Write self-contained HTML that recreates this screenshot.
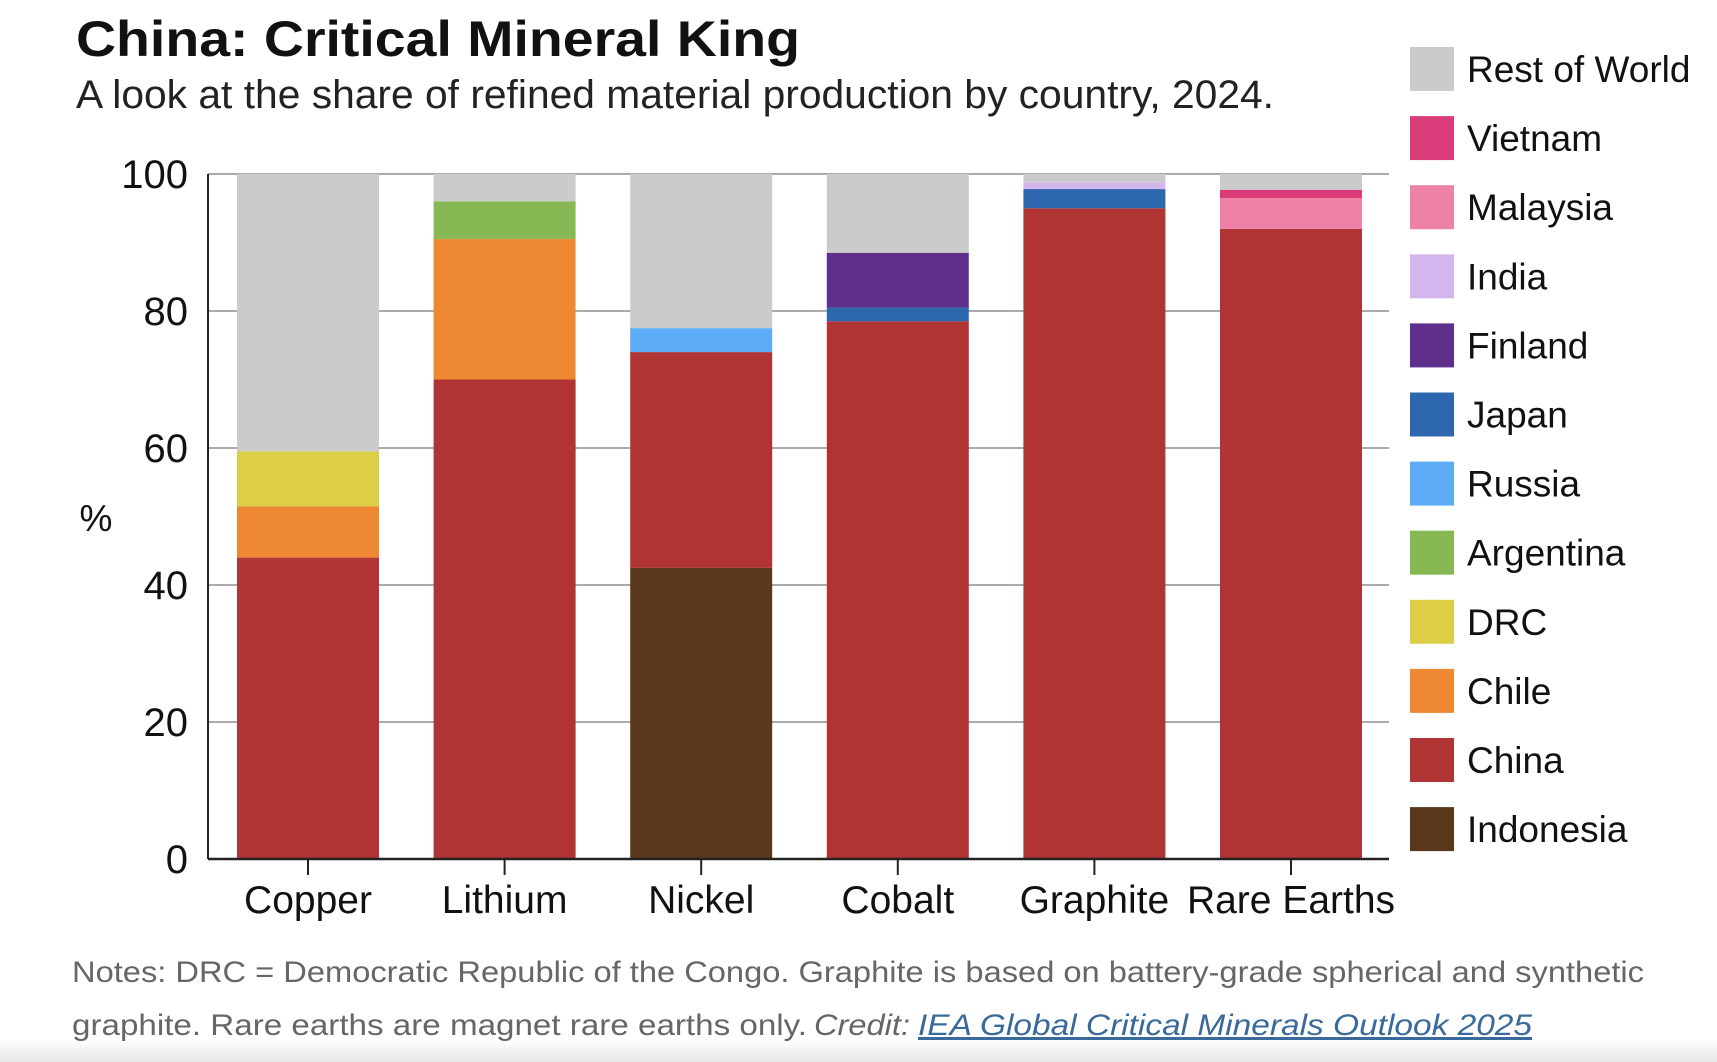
<!DOCTYPE html>
<html><head><meta charset="utf-8"><style>
html,body{margin:0;padding:0;background:#fff;}
svg{display:block;font-family:"Liberation Sans",sans-serif;}
</style></head><body>
<svg id="chart" width="1717" height="1062" viewBox="0 0 1717 1062">
<defs><linearGradient id="bot" x1="0" y1="0" x2="0" y2="1"><stop offset="0" stop-color="#fff"/><stop offset="1" stop-color="#e6e6e6"/></linearGradient></defs>
<rect x="0" y="1040" width="1717" height="22" fill="url(#bot)"/>
<text x="76" y="56" font-size="50" font-weight="bold" fill="#111" textLength="724" lengthAdjust="spacingAndGlyphs">China: Critical Mineral King</text>
<text x="76" y="108" font-size="40" fill="#222" textLength="1198" lengthAdjust="spacingAndGlyphs">A look at the share of refined material production by country, 2024.</text>
<g id="grid"></g>
<g id="bars"></g>
<g id="axes"></g>
<g id="legend"></g>
<text x="96" y="531" font-size="37" text-anchor="middle" fill="#111">%</text>
<text x="72" y="982" font-size="30" fill="#666" textLength="1572" lengthAdjust="spacingAndGlyphs">Notes: DRC = Democratic Republic of the Congo. Graphite is based on battery-grade spherical and synthetic</text>
<text x="72" y="1035" font-size="30" fill="#666"><tspan textLength="735" lengthAdjust="spacingAndGlyphs">graphite. Rare earths are magnet rare earths only.</tspan><tspan x="814" font-style="italic" textLength="96" lengthAdjust="spacingAndGlyphs">Credit:</tspan><tspan x="918" font-style="italic" fill="#3a6a9c" text-decoration="underline" textLength="614" lengthAdjust="spacingAndGlyphs">IEA Global Critical Minerals Outlook 2025</tspan></text>
</svg>
<script>
const categories = ["Copper","Lithium","Nickel","Cobalt","Graphite","Rare Earths"];
const seriesNames = ["Indonesia","China","Chile","DRC","Argentina","Russia","Japan","Finland","India","Malaysia","Vietnam","Rest of World"];
const seriesColors = ["#5a381c","#b03434","#ee8833","#dccf45","#88b854","#5eacf6","#2d68ae","#5e2f8b","#d4b6ee","#ee82a6","#da3c7a","#cbcbcb"];
const indonesia = [0,0,42.5,0,0,0];
const china = [44,70,31.5,78.5,95,92];
const chile = [7.5,20.5,0,0,0,0];
const drc = [8,0,0,0,0,0];
const argentina = [0,5.5,0,0,0,0];
const russia = [0,0,3.5,0,0,0];
const japan = [0,0,0,2,2.8,0];
const finland = [0,0,0,8,0,0];
const india = [0,0,0,0,1,0];
const malaysia = [0,0,0,0,0,4.5];
const vietnam = [0,0,0,0,0,1.2];
const restOfWorld = [40.5,4,22.5,11.5,1.2,2.3];
const yTicks = [0,20,40,60,80,100];
const series = [indonesia,china,chile,drc,argentina,russia,japan,finland,india,malaysia,vietnam,restOfWorld];

const NS="http://www.w3.org/2000/svg";
const X0=208, X1=1389, Y0=859, Y100=174;
const y = v => Y0 - (v/100)*(Y0-Y100);
const step = 196.6, bw = 142, firstX = 237;
const xb = i => firstX + i*step;
function mk(tag, attrs, parent){const e=document.createElementNS(NS,tag);for(const k in attrs)e.setAttribute(k,attrs[k]);parent.appendChild(e);return e;}
const grid=document.getElementById('grid'), bars=document.getElementById('bars'), axes=document.getElementById('axes'), legend=document.getElementById('legend');
yTicks.forEach(t=>{
  if(t>0){const l=mk('line',{x1:X0,x2:X1,y1:y(t),y2:y(t),stroke:'#aaa','stroke-width':2},grid);
  
  }
  const tx=mk('text',{x:188,y:y(t)+14,'font-size':40,'text-anchor':'end',fill:'#111'},axes);
  tx.textContent=t;
  
  
});
categories.forEach((c,i)=>{
  let base=0;
  series.forEach((s,j)=>{
    const v=s[i]; if(!v) return;
    const r=mk('rect',{x:xb(i),y:y(base+v),width:bw,height:y(base)-y(base+v),fill:seriesColors[j]},bars);
    
    
    base+=v;
  });
  const cx=xb(i)+bw/2;
  const tk=mk('line',{x1:cx,x2:cx,y1:Y0,y2:Y0+16,stroke:'#222','stroke-width':2},axes);
  
  
  const lb=mk('text',{x:cx,y:913,'font-size':39,'text-anchor':'middle',fill:'#111'},axes);
  lb.textContent=c;
  
  
});
const ya=mk('line',{x1:X0,x2:X0,y1:Y100,y2:Y0,stroke:'#222','stroke-width':2},axes);


const xa=mk('line',{x1:X0,x2:X1,y1:Y0,y2:Y0,stroke:'#222','stroke-width':2.5},axes);


for(let k=0;k<seriesNames.length;k++){
  const j=seriesNames.length-1-k;
  const cy=69+k*69.1;
  const g=mk('g',{},legend);
  
  
  mk('rect',{x:1410,y:cy-22,width:44,height:44,fill:seriesColors[j]},g);
  const t=mk('text',{x:1467,y:cy+13,'font-size':37,fill:'#111'},g);
  t.textContent=seriesNames[j];
}
</script>
</body></html>
